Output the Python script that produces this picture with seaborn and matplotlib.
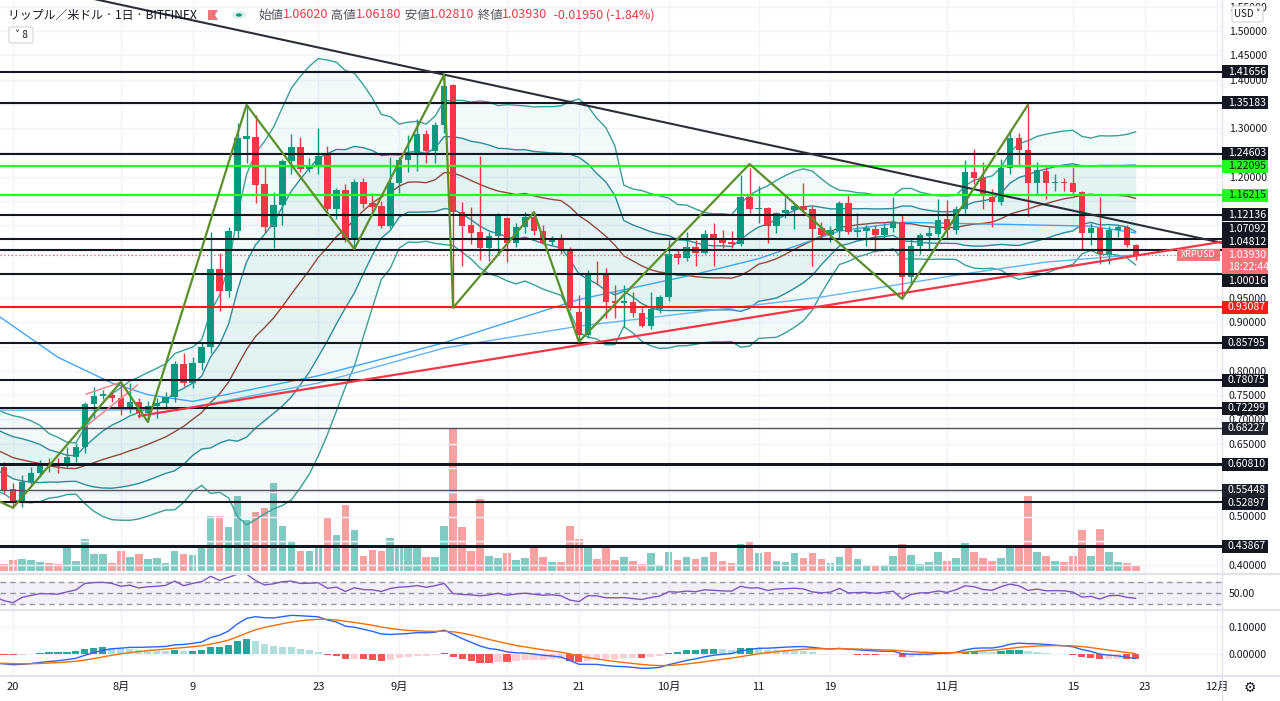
import numpy as np
import pandas as pd
import matplotlib
matplotlib.use("Agg")
import matplotlib.pyplot as plt
import matplotlib.dates as mdates
from matplotlib.patches import Rectangle, FancyBboxPatch, Circle, Polygon
from matplotlib.lines import Line2D
import seaborn as sns

# ---------------- data ----------------
# estimated closes before the visible window (Jun 19 - Jul 18), only used to warm up the indicators
warmup_close = [0.80, 0.81, 0.61, 0.62, 0.66, 0.68, 0.62, 0.63, 0.69, 0.68,
                0.72, 0.71, 0.66, 0.67, 0.68, 0.70, 0.66, 0.67, 0.65, 0.61,
                0.63, 0.62, 0.63, 0.61, 0.60, 0.60, 0.58, 0.58, 0.59, 0.60]

dates = pd.date_range("2021-07-19", "2021-11-22", freq="D")

opens = [
    # Jul 19-31
    0.602, 0.557, 0.528, 0.571, 0.590, 0.608, 0.606, 0.606, 0.623, 0.643, 0.732, 0.748, 0.750,
    # Aug
    0.744, 0.724, 0.736, 0.713, 0.728, 0.734, 0.746, 0.814, 0.775, 0.816,
    0.849, 1.010, 0.964, 1.088, 1.278, 1.282, 1.185, 1.096, 1.141, 1.232,
    1.261, 1.216, 1.224, 1.245, 1.133, 1.172, 1.070, 1.189, 1.146, 1.140, 1.098,
    # Sep
    1.187, 1.234, 1.249, 1.288, 1.253, 1.306, 1.389, 1.127, 1.100, 1.086,
    1.053, 1.078, 1.115, 1.063, 1.096, 1.117, 1.088, 1.065, 1.072, 1.049,
    0.921, 0.874, 1.002, 0.997, 0.944, 0.940, 0.942, 0.919, 0.892, 0.927,
    # Oct
    0.952, 1.041, 1.032, 1.055, 1.043, 1.082, 1.074, 1.066, 1.061, 1.158,
    1.133, 1.135, 1.098, 1.125, 1.131, 1.140, 1.133, 1.094, 1.080, 1.088,
    1.146, 1.086, 1.088, 1.092, 1.080, 1.094, 1.107, 0.993, 1.057, 1.078, 1.082,
    # Nov 1-22
    1.113, 1.090, 1.133, 1.210, 1.197, 1.158, 1.148, 1.218, 1.280, 1.255,
    1.187, 1.212, 1.186, 1.189, 1.187, 1.168, 1.084, 1.094, 1.041, 1.090,
    1.096, 1.0602,
]
highs = [
    0.612, 0.569, 0.585, 0.602, 0.616, 0.620, 0.620, 0.643, 0.652, 0.736, 0.767, 0.761, 0.756,
    0.777, 0.775, 0.745, 0.737, 0.745, 0.757, 0.821, 0.837, 0.829, 0.857,
    1.086, 1.043, 1.096, 1.310, 1.348, 1.327, 1.222, 1.168, 1.236, 1.288,
    1.282, 1.238, 1.300, 1.263, 1.176, 1.184, 1.195, 1.197, 1.166, 1.150, 1.240,
    1.240, 1.285, 1.319, 1.296, 1.313, 1.411, 1.391, 1.147, 1.138, 1.243,
    1.086, 1.125, 1.117, 1.104, 1.127, 1.127, 1.100, 1.078, 1.082, 1.055,
    0.956, 1.008, 1.027, 1.012, 0.977, 0.977, 0.962, 0.930, 0.963, 0.956,
    1.070, 1.049, 1.086, 1.069, 1.090, 1.105, 1.090, 1.088, 1.203, 1.218,
    1.180, 1.137, 1.128, 1.158, 1.145, 1.187, 1.140, 1.106, 1.098, 1.150,
    1.164, 1.125, 1.100, 1.100, 1.104, 1.158, 1.124, 1.074, 1.084, 1.098, 1.154,
    1.152, 1.139, 1.234, 1.257, 1.230, 1.174, 1.236, 1.296, 1.290, 1.348,
    1.230, 1.222, 1.205, 1.197, 1.220, 1.170, 1.104, 1.158, 1.098, 1.100,
    1.100, 1.0618,
]
lows = [
    0.548, 0.518, 0.520, 0.566, 0.582, 0.592, 0.590, 0.602, 0.612, 0.631, 0.700, 0.742, 0.736,
    0.709, 0.713, 0.703, 0.694, 0.703, 0.722, 0.735, 0.769, 0.764, 0.801,
    0.837, 0.923, 0.952, 1.074, 1.228, 1.146, 1.084, 1.053, 1.100, 1.205,
    1.209, 1.209, 1.205, 1.127, 1.113, 1.066, 1.053, 1.135, 1.125, 1.094, 1.094,
    1.166, 1.209, 1.211, 1.229, 1.229, 1.290, 0.930, 1.016, 1.061, 1.028,
    1.026, 1.038, 1.024, 1.055, 1.084, 1.080, 1.061, 1.059, 1.040, 0.925,
    0.864, 0.868, 0.977, 0.909, 0.909, 0.890, 0.911, 0.890, 0.886, 0.920,
    0.944, 1.020, 1.026, 1.016, 1.040, 1.016, 1.053, 1.053, 1.057, 1.125,
    1.104, 1.063, 1.084, 1.115, 1.092, 1.127, 1.016, 1.072, 1.065, 1.072,
    1.082, 1.075, 1.057, 1.045, 1.073, 1.086, 0.950, 0.980, 1.040, 1.048, 1.076,
    1.073, 1.082, 1.125, 1.185, 1.133, 1.096, 1.142, 1.205, 1.224, 1.119,
    1.164, 1.154, 1.170, 1.170, 1.164, 1.049, 1.059, 1.020, 1.020, 1.075,
    1.055, 1.0281,
]
closes = [
    0.555, 0.528, 0.571, 0.590, 0.608, 0.605, 0.603, 0.623, 0.643, 0.732, 0.748, 0.752, 0.744,
    0.721, 0.736, 0.713, 0.728, 0.734, 0.746, 0.814, 0.775, 0.816, 0.849,
    1.010, 0.964, 1.088, 1.280, 1.284, 1.183, 1.096, 1.141, 1.232, 1.261,
    1.216, 1.224, 1.243, 1.133, 1.172, 1.070, 1.189, 1.144, 1.138, 1.098, 1.187,
    1.234, 1.249, 1.288, 1.253, 1.306, 1.387, 1.127, 1.098, 1.084, 1.053,
    1.078, 1.119, 1.063, 1.096, 1.117, 1.088, 1.063, 1.074, 1.049, 0.929,
    0.874, 1.002, 0.997, 0.942, 0.940, 0.944, 0.919, 0.892, 0.927, 0.952,
    1.041, 1.032, 1.055, 1.043, 1.082, 1.074, 1.064, 1.061, 1.158, 1.133,
    1.136, 1.098, 1.125, 1.131, 1.140, 1.131, 1.092, 1.080, 1.090, 1.146,
    1.086, 1.090, 1.094, 1.080, 1.094, 1.107, 0.993, 1.057, 1.080, 1.084, 1.110,
    1.090, 1.133, 1.210, 1.197, 1.160, 1.148, 1.218, 1.280, 1.255, 1.187,
    1.214, 1.187, 1.189, 1.187, 1.168, 1.084, 1.094, 1.041, 1.090, 1.096,
    1.0602, 1.0393,
]
volume = [
    6.7, 10.7, 11.7, 10.7, 9.0, 7.3, 6.7, 25.7, 9.7, 31.3, 16.3, 17.0, 7.3,
    19.3, 14.0, 17.0, 11.3, 12.3, 7.3, 19.3, 16.7, 15.7, 25.3,
    54.7, 54.7, 43.7, 74.7, 50.7, 59.0, 63.0, 88.0, 45.0, 28.7,
    20.0, 19.3, 25.7, 53.7, 35.7, 65.7, 40.7, 14.7, 20.7, 19.3, 33.0,
    25.3, 24.7, 24.0, 14.0, 13.3, 44.7, 143.0, 43.7, 20.0, 71.3,
    14.7, 12.3, 17.7, 10.7, 13.0, 24.0, 14.0, 8.3, 9.0, 45.0,
    31.3, 24.0, 11.7, 22.3, 10.7, 14.0, 10.0, 6.7, 17.3, 6.0,
    19.0, 11.0, 14.0, 11.7, 14.0, 19.0, 9.3, 7.3, 26.7, 28.3,
    17.3, 19.0, 10.0, 9.0, 17.3, 12.3, 18.0, 11.7, 7.7, 13.3,
    22.3, 11.7, 4.3, 6.0, 4.3, 14.7, 26.7, 16.0, 6.7, 9.0, 19.0,
    10.0, 13.0, 27.3, 18.3, 12.3, 9.3, 13.0, 22.3, 22.3, 75.0,
    19.0, 15.0, 10.0, 8.3, 15.0, 40.7, 14.3, 41.7, 19.0, 8.3,
    7.3, 5.0,
]

# two light-blue moving averages, read at a few dates
ma_fast_dates = ["2021-07-18 13:00", "2021-07-25", "2021-07-31", "2021-08-04", "2021-08-09",
                 "2021-08-23", "2021-09-06", "2021-09-21", "2021-10-04", "2021-10-11",
                 "2021-10-20", "2021-10-27", "2021-11-12", "2021-11-17", "2021-11-22"]
ma_fast = [0.911, 0.828, 0.775, 0.751, 0.737, 0.790, 0.858, 0.947, 0.999, 1.031,
           1.088, 1.106, 1.100, 1.098, 1.084]
ma_slow_dates = ["2021-07-18 13:00", "2021-07-30", "2021-08-08", "2021-08-23", "2021-09-06",
                 "2021-09-21", "2021-10-05", "2021-10-18", "2021-11-03", "2021-11-12", "2021-11-22"]
ma_slow = [0.719, 0.719, 0.722, 0.775, 0.847, 0.892, 0.923, 0.952, 1.000, 1.024, 1.039]

# drawings
h_levels = [1.41656, 1.35183, 1.24603, 1.22095, 1.16215, 1.12136, 1.07092, 1.04812,
            1.00016, 0.93087, 0.85795, 0.78075, 0.72299, 0.68227, 0.60810, 0.55448,
            0.52897, 0.43867]
h_kinds = ["black", "black", "black", "green", "green", "black", "black", "black",
           "black", "red", "black", "black", "black", "thin", "thick", "thin",
           "black", "thick"]
zz_dates = ["2021-07-18", "2021-07-20", "2021-08-01", "2021-08-04", "2021-08-15", "2021-08-27",
            "2021-09-06", "2021-09-07", "2021-09-16", "2021-09-21", "2021-10-10", "2021-10-27",
            "2021-11-10"]
zz_prices = [0.535, 0.518, 0.777, 0.695, 1.348, 1.051, 1.410, 0.930, 1.127, 0.860, 1.226,
             0.948, 1.348]
trend_down_dates = ["2021-07-29", "2021-12-03"]
trend_down = [1.566, 1.058]
trend_up_dates = ["2021-08-03", "2021-12-03"]
trend_up = [0.707, 1.070]
flag_dates = [["2021-07-28 03:00", "2021-08-01 02:00"], ["2021-07-28 03:00", "2021-08-02 21:00"]]
flag_prices = [[0.752, 0.777], [0.686, 0.771]]

tick_dates = ["2021-07-20", "2021-08-01", "2021-08-09", "2021-08-23", "2021-09-01", "2021-09-13",
              "2021-09-21", "2021-10-01", "2021-10-11", "2021-10-19", "2021-11-01", "2021-11-15",
              "2021-11-23", "2021-12-01"]
tick_labels = ["20", "8月", "9", "23", "9月", "13", "21", "10月", "11", "19", "11月", "15",
               "23", "12月"]
price_ticks = np.round(np.arange(0.40, 1.551, 0.05), 2)


def to_dt(s):
    return pd.to_datetime(s, format="mixed")


# ---------------- indicators ----------------
idx_all = pd.date_range(end=dates[0] - pd.Timedelta(days=1), periods=len(warmup_close),
                        freq="D").append(dates)
close_all = pd.Series(warmup_close + closes, index=idx_all)
basis = close_all.rolling(20).mean()
dev = close_all.rolling(20).std(ddof=0)
delta = close_all.diff()
gain = delta.clip(lower=0).ewm(alpha=1 / 14, adjust=False).mean()
loss = (-delta.clip(upper=0)).ewm(alpha=1 / 14, adjust=False).mean()
rsi = 100 - 100 / (1 + gain / loss)
macd = close_all.ewm(span=12, adjust=False).mean() - close_all.ewm(span=26, adjust=False).mean()
signal = macd.ewm(span=9, adjust=False).mean()
hist = macd - signal
hist_prev = hist.shift(1)

show = idx_all >= pd.Timestamp("2021-07-18")
d_ind = idx_all[show]

# ---------------- figure ----------------
sns.set_theme(style="white")
plt.rcParams["font.family"] = ["Noto Sans CJK JP", "DejaVu Sans"]
plt.rcParams["axes.unicode_minus"] = False

W, H = 1280, 701
fig = plt.figure(figsize=(W / 100, H / 100), dpi=100, facecolor="white")


def frac_rect(x0, y0, x1, y1):
    return [x0 / W, 1 - y1 / H, (x1 - x0) / W, (y1 - y0) / H]


def fy(y):
    return 1 - y / H


ax = fig.add_axes(frac_rect(0, 0, 1222, 573))
ax_rsi = fig.add_axes(frac_rect(0, 574, 1222, 609), sharex=ax)
ax_macd = fig.add_axes(frac_rect(0, 611, 1222, 675), sharex=ax)
vax = ax.twinx()
ax.set_zorder(2)
vax.set_zorder(1)
ax.patch.set_visible(False)

UP, DOWN = "#089981", "#f23645"
o, hi, lo, c = map(np.array, (opens, highs, lows, closes))
up = c >= o
ccol = np.where(up, UP, DOWN)

# volume behind price
vax.bar(dates, volume, width=0.84, color=np.where(up, "#7fcbc3", "#f9a0a0"), linewidth=0)
vax.set_ylim(-2.3, 570.7)
vax.set_yticks([])

# Bollinger bands (20, 1 and 2 sigma)
b = basis[show]
s = dev[show]
ax.fill_between(d_ind, b + 2 * s, b - 2 * s, color="#26a69a", alpha=0.06, linewidth=0, zorder=1)
ax.fill_between(d_ind, b + s, b - s, color="#26a69a", alpha=0.07, linewidth=0, zorder=1)
for k, colr in ((2, "#3a9f98"), (1, "#2d8c9a")):
    sns.lineplot(x=d_ind, y=(b + k * s).values, ax=ax, color=colr, linewidth=1.0, zorder=2)
    sns.lineplot(x=d_ind, y=(b - k * s).values, ax=ax, color=colr, linewidth=1.0, zorder=2)
sns.lineplot(x=d_ind, y=b.values, ax=ax, color="#8d4a40", linewidth=1.0, zorder=2)

sns.lineplot(x=to_dt(ma_fast_dates), y=ma_fast, ax=ax, color="#42a5f5", linewidth=1.0, zorder=2)
sns.lineplot(x=to_dt(ma_slow_dates), y=ma_slow, ax=ax, color="#64b5f6", linewidth=1.0, zorder=2)

# candles
ax.vlines(dates, lo, hi, colors=ccol, linewidth=1.0, zorder=3)
ax.bar(dates, np.maximum(np.abs(c - o), 0.002), bottom=np.minimum(o, c), width=0.72,
       color=ccol, linewidth=0, zorder=3.1)

# horizontal levels
line_style = {"black": ("#131722", 1.5), "thick": ("#131722", 2.2), "thin": ("#50535e", 1.0),
              "green": ("#22ff22", 1.6), "red": ("#ff1a1a", 1.5)}
for lv, kind in zip(h_levels, h_kinds):
    colr, lw = line_style[kind]
    ax.axhline(lv, color=colr, linewidth=lw, zorder=4)
ax.axhline(closes[-1], color="#f7525f", linewidth=0.9, linestyle=(0, (1, 2)), zorder=4)

# trend lines and zigzag
ax.plot(to_dt(trend_down_dates), trend_down, color="#2a2e39", linewidth=1.5, zorder=4)
ax.plot(to_dt(trend_up_dates), trend_up, color="#f23645", linewidth=1.6, zorder=4)
for fd, fp in zip(flag_dates, flag_prices):
    ax.plot(to_dt(fd), fp, color="#f77c80", linewidth=1.0, zorder=4)
ax.plot(to_dt(zz_dates), zz_prices, color="#5a8f29", linewidth=1.6, zorder=4.5)

# RSI pane
x0n = mdates.date2num(pd.Timestamp("2021-07-20"))
r = rsi[show]
ax_rsi.fill_between([x0n - 5, x0n + 140], 30, 70, color="#7e57c2", alpha=0.09, linewidth=0)
for lv in (70, 50, 30):
    ax_rsi.axhline(lv, color="#9598a1", linewidth=1.0, linestyle=(0, (4, 3)))
sns.lineplot(x=d_ind, y=r.values, ax=ax_rsi, color="#7e57c2", linewidth=1.0)
ax_rsi.set_ylim(20.9, 84.5)

# MACD pane
hv = hist[show].values
hp = hist_prev[show].values
hcol = np.where(hv >= 0, np.where(hv > hp, "#26a69a", "#b2dfdb"),
                np.where(hv > hp, "#ffcdd2", "#ff5252"))
ax_macd.bar(d_ind, hv, width=0.8, color=hcol, linewidth=0)
sns.lineplot(x=d_ind, y=macd[show].values, ax=ax_macd, color="#2962ff", linewidth=1.0)
sns.lineplot(x=d_ind, y=signal[show].values, ax=ax_macd, color="#ff6d00", linewidth=1.0)
ax_macd.set_ylim(-0.0778, 0.1593)

# axes limits
ax.set_xlim(x0n - 1.45, x0n + 134.6)
y_top, y_bot = 1.5 + 31 / 485.5, 1.5 - 542 / 485.5
ax.set_ylim(y_bot, y_top)


# right-hand price labels (pushed apart around the last-price label)
def price_px(p):
    return (y_top - p) / (y_top - y_bot) * 573


cur_y = price_px(closes[-1])
items = list(zip(h_levels, h_kinds))
above = sorted([it for it in items if price_px(it[0]) < cur_y], key=lambda it: -price_px(it[0]))
below = sorted([it for it in items if price_px(it[0]) >= cur_y], key=lambda it: price_px(it[0]))
placed = []
limit = cur_y - 6.5
for lv, kind in above:
    yy = min(price_px(lv), limit - 6.5)
    placed.append((yy, lv, kind))
    limit = yy - 6.5
limit = cur_y + 19.5
for lv, kind in below:
    yy = max(price_px(lv), limit + 6.5)
    placed.append((yy, lv, kind))
    limit = yy + 6.5

# scale ticks whose centre sits under a label box are not drawn (half-covered ones stay)
box_spans = [(yy - 6.5, yy + 6.5) for yy, _, _ in placed] + [(cur_y - 6.5, cur_y + 19.5)]
visible_ticks = [t for t in price_ticks
                 if all(not (lo_ <= price_px(t) <= hi_) for lo_, hi_ in box_spans)]

# ticks, grids, spines
for a in (ax, ax_rsi, ax_macd, vax):
    for sp in a.spines.values():
        sp.set_visible(False)
    a.set_xlabel("")
    a.set_ylabel("")
ax.yaxis.tick_right()
ax.set_yticks(visible_ticks)
ax.yaxis.set_major_formatter(plt.FuncFormatter(lambda v, p: f"{v:.5f}"))
ax_rsi.yaxis.tick_right()
ax_rsi.set_yticks([50])
ax_rsi.yaxis.set_major_formatter(plt.FuncFormatter(lambda v, p: f"{v:.2f}"))
ax_macd.yaxis.tick_right()
ax_macd.set_yticks([0.0, 0.1])
ax_macd.yaxis.set_major_formatter(plt.FuncFormatter(lambda v, p: f"{v:.5f}"))
for a in (ax, ax_rsi, ax_macd):
    a.tick_params(axis="y", length=0, pad=5, labelsize=7.6, labelcolor="#131722")
ax_macd.set_xticks(to_dt(tick_dates))
ax_macd.set_xticklabels(tick_labels)
ax_macd.tick_params(axis="x", length=0, pad=5, labelsize=8, labelcolor="#131722")
ax.tick_params(axis="x", labelbottom=False, length=0)
ax_rsi.tick_params(axis="x", labelbottom=False, length=0)
for t in price_ticks:
    ax.axhline(t, color="#f0f3fa", linewidth=1.0, zorder=0)
ax.grid(True, axis="x", color="#f0f3fa", linewidth=1.0)
ax.grid(False, axis="y")
ax_rsi.grid(True, axis="x", color="#f0f3fa", linewidth=1.0)
ax_rsi.grid(False, axis="y")
ax_macd.grid(True, color="#f0f3fa", linewidth=1.0)

# pane separators
for yy in (574, 610, 676):
    fig.add_artist(Line2D([0, 1], [fy(yy), fy(yy)], color="#e0e3eb", linewidth=1.6))
fig.add_artist(Line2D([1222 / W, 1222 / W], [0, 1], color="#e0e3eb", linewidth=1.0))


def box(x0, y0, x1, y1, fc, ec="none", lw=0.0):
    fig.add_artist(Rectangle((x0 / W, fy(y1)), (x1 - x0) / W, (y1 - y0) / H,
                             transform=fig.transFigure, facecolor=fc, edgecolor=ec,
                             linewidth=lw, zorder=5))


label_fc = {"black": "#131722", "thick": "#131722", "thin": "#1e222d", "green": "#22ff22",
            "red": "#ff1a1a"}
label_tc = {"black": "white", "thick": "white", "thin": "white", "green": "#131722",
            "red": "white"}
for yy, lv, kind in placed:
    box(1222, yy - 6.5, 1268, yy + 6.5, label_fc[kind])
    fig.text(1228 / W, fy(yy), f"{lv:.5f}", color=label_tc[kind], fontsize=7.6,
             va="center", ha="left", zorder=6)

box(1222, cur_y - 6.5, 1268, cur_y + 19.5, "#f7727a")
fig.text(1228 / W, fy(cur_y), f"{closes[-1]:.5f}", color="white", fontsize=7.6,
         va="center", ha="left", zorder=6)
fig.text(1228 / W, fy(cur_y + 12), "18:22:44", color="white", fontsize=7.6,
         va="center", ha="left", zorder=6)
box(1177, cur_y - 6, 1220, cur_y + 6, "#f7727a")
fig.text(1198.5 / W, fy(cur_y), "XRPUSD", color="white", fontsize=6.5,
         va="center", ha="center", zorder=6)

# USD selector
fig.add_artist(FancyBboxPatch((1232 / W, fy(22)), 31 / W, 16 / H,
                              boxstyle="round,pad=0,rounding_size=0.002",
                              transform=fig.transFigure, facecolor="white",
                              edgecolor="#d1d4dc", linewidth=0.8, zorder=7))
fig.text(1247.5 / W, fy(14), "USD ˅", color="#131722", fontsize=7.0, va="center",
         ha="center", zorder=8)

# header
fig.text(8 / W, fy(15), "リップル／米ドル · 1日 · BITFINEX", color="#131722", fontsize=8.6,
         va="center", ha="left")
fig.add_artist(Polygon([(208 / W, fy(10)), (218 / W, fy(10)), (215 / W, fy(15)),
                        (218 / W, fy(20)), (208 / W, fy(20))], closed=True,
                       transform=fig.transFigure, facecolor="#f7727a", edgecolor="none"))
fig.add_artist(Circle((239 / W, fy(15)), 7 / W, transform=fig.transFigure,
                      facecolor="#d9efec", edgecolor="none"))
fig.add_artist(Circle((239 / W, fy(15)), 3 / W, transform=fig.transFigure,
                      facecolor="#089981", edgecolor="none"))

renderer = fig.canvas.get_renderer()
pieces = [("始値", "#50535e"), ("1.06020", "#f23645"), (" 高値", "#50535e"), ("1.06180", "#f23645"),
          (" 安値", "#50535e"), ("1.02810", "#f23645"), (" 終値", "#50535e"), ("1.03930", "#f23645"),
          ("  -0.01950 (-1.84%)", "#f23645")]
xp = 258
for txt, colr in pieces:
    t = fig.text(xp / W, fy(15), txt, color=colr, fontsize=9.0, va="center", ha="left")
    xp += t.get_window_extent(renderer=renderer).width

fig.add_artist(FancyBboxPatch((9 / W, fy(43)), 24 / W, 16 / H,
                              boxstyle="round,pad=0,rounding_size=0.002",
                              transform=fig.transFigure, facecolor="white",
                              edgecolor="#d1d4dc", linewidth=0.8, zorder=7))
fig.text(21 / W, fy(35), "˅ 8", color="#131722", fontsize=7.2, va="center", ha="center", zorder=8)

# settings icon
fig.text(1250 / W, fy(688), "⚙", color="#131722", fontsize=10, va="center", ha="center",
         family=["DejaVu Sans"])

fig.savefig("out.png", dpi=100, facecolor="white")
